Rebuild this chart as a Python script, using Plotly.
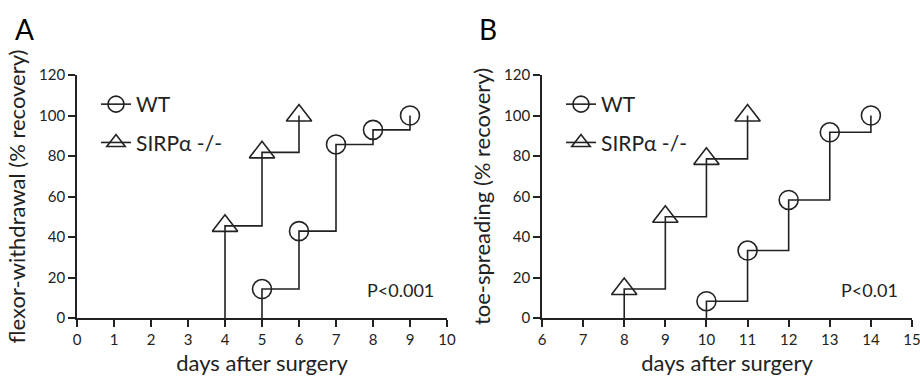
import plotly.graph_objects as go

# ---- data ----
a_wt_days = [5, 6, 7, 8, 9]
a_wt_recovery = [14.3, 42.9, 85.7, 92.9, 100]
a_ko_days = [4, 5, 6]
a_ko_recovery = [45.5, 81.8, 100]

b_wt_days = [10, 11, 12, 13, 14]
b_wt_recovery = [8.3, 33.3, 58.3, 91.7, 100]
b_ko_days = [8, 9, 10, 11]
b_ko_recovery = [14.3, 50, 78.6, 100]

series_names = ["WT", "SIRPα -/-"]
y_ticks = [0, 20, 40, 60, 80, 100, 120]
a_x_ticks = list(range(0, 11))
b_x_ticks = list(range(6, 16))

INK = "#222222"
FONT = "Lato"

fig = go.Figure()


def add_series(days, rec, symbol, size, xa, ya):
    # step line starting from the x-axis at the first day
    fig.add_trace(go.Scatter(
        x=[days[0]] + days, y=[0] + rec, mode="lines", line_shape="hv",
        line=dict(color=INK, width=1.6), xaxis=xa, yaxis=ya,
        showlegend=False, hoverinfo="skip"))
    fig.add_trace(go.Scatter(
        x=days, y=rec, mode="markers",
        marker=dict(symbol=symbol, size=size, color=INK, line=dict(color=INK, width=1.6)),
        xaxis=xa, yaxis=ya, showlegend=False, cliponaxis=False))


add_series(a_wt_days, a_wt_recovery, "circle-open", 19, "x", "y")
add_series(a_ko_days, a_ko_recovery, "triangle-up-open", 22, "x", "y")
add_series(b_wt_days, b_wt_recovery, "circle-open", 19, "x2", "y2")
add_series(b_ko_days, b_ko_recovery, "triangle-up-open", 22, "x2", "y2")

# legend entries
for leg, xa, ya in [("legend", "x", "y"), ("legend2", "x2", "y2")]:
    for name, sym, sz in zip(series_names, ["circle-open", "triangle-up-open"], [19, 22]):
        fig.add_trace(go.Scatter(
            x=[None], y=[None], mode="lines+markers", name=name,
            line=dict(color=INK, width=1.6),
            marker=dict(symbol=sym, size=sz, color=INK, line=dict(color=INK, width=1.6)),
            xaxis=xa, yaxis=ya, legend=leg, legendgroup=name + leg))

axis_common = dict(
    showline=True, linecolor=INK, linewidth=1.6, ticks="outside", ticklen=7,
    tickwidth=1.6, tickcolor=INK, showgrid=False, zeroline=False,
    tickfont=dict(family=FONT, size=15, color=INK), automargin=False,
    ticklabeloverflow="allow",
    title_font=dict(family=FONT, size=22, color=INK))

leg_common = dict(yanchor="top", xanchor="left", y=1 - 84/378,
                  font=dict(family=FONT, size=21, color=INK), bgcolor="rgba(0,0,0,0)",
                  itemsizing="trace", tracegroupgap=8)

fig.update_layout(
    width=920, height=378, plot_bgcolor="white", paper_bgcolor="white",
    margin=dict(l=0, r=0, t=0, b=0),
    font=dict(family=FONT, color=INK),
    xaxis=dict(domain=[77/920, 447/920], range=[0, 10], tickvals=a_x_ticks,
               title=dict(text="days after surgery", standoff=9), anchor="y", **axis_common),
    yaxis=dict(domain=[60/378, 303/378], range=[0, 120], tickvals=y_ticks,
               title=dict(text="flexor-withdrawal (% recovery)", standoff=7), anchor="x", **axis_common),
    xaxis2=dict(domain=[542/920, 912/920], range=[6, 15], tickvals=b_x_ticks,
                title=dict(text="days after surgery", standoff=9), anchor="y2", **axis_common),
    yaxis2=dict(domain=[60/378, 303/378], range=[0, 120], tickvals=y_ticks,
                title=dict(text="toe-spreading (% recovery)", standoff=7), anchor="x2", **axis_common),
    legend=dict(x=96/920, **leg_common),
    legend2=dict(x=561/920, **leg_common),
    annotations=[
        dict(text="A", x=13/920, y=1 - 29/378, xref="paper", yref="paper",
             xanchor="left", yanchor="middle", showarrow=False,
             font=dict(family=FONT, size=28, color="black")),
        dict(text="B", x=477/920, y=1 - 29/378, xref="paper", yref="paper",
             xanchor="left", yanchor="middle", showarrow=False,
             font=dict(family=FONT, size=28, color="black")),
        dict(text="P<0.001", x=9.7, y=14, xref="x", yref="y",
             xanchor="right", yanchor="middle", showarrow=False,
             font=dict(family=FONT, size=18, color=INK)),
        dict(text="P<0.01", x=14.7, y=14, xref="x2", yref="y2",
             xanchor="right", yanchor="middle", showarrow=False,
             font=dict(family=FONT, size=18, color=INK)),
    ],
)

fig.write_html("out.html", config={"displayModeBar": False},
               post_script="document.body.style.margin='0';")
